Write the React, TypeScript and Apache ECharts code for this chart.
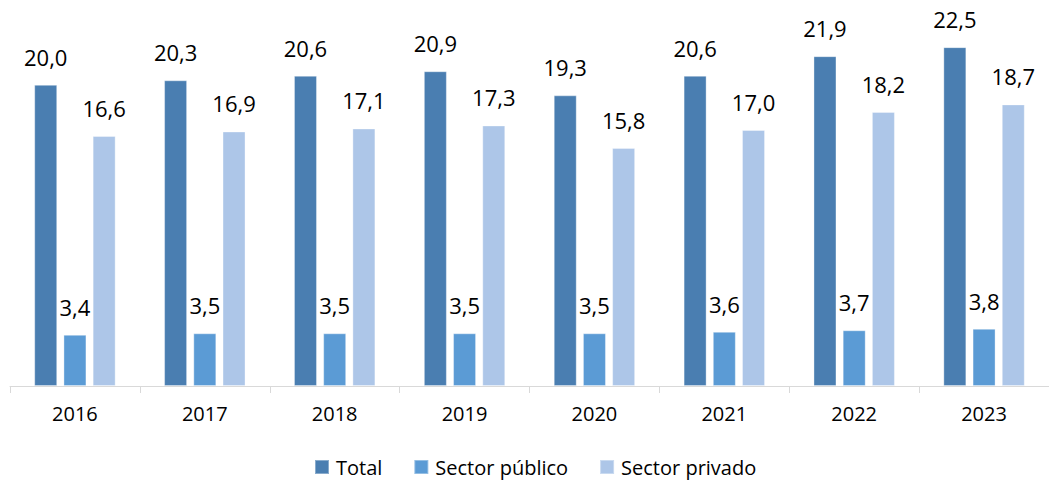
import React, { useEffect, useRef } from "react";
import * as echarts from "echarts";

const categories = ["2016", "2017", "2018", "2019", "2020", "2021", "2022", "2023"];
const totalValues = [20.0, 20.3, 20.6, 20.9, 19.3, 20.6, 21.9, 22.5];
const publicValues = [3.4, 3.5, 3.5, 3.5, 3.5, 3.6, 3.7, 3.8];
const privateValues = [16.6, 16.9, 17.1, 17.3, 15.8, 17.0, 18.2, 18.7];
const seriesNames = ["Total", "Sector público", "Sector privado"];
const colors = ["#4a7eb1", "#5b9bd5", "#adc6e8"];

const FONT = "'Open Sans', sans-serif";

export default function App() {
  const ref = useRef<HTMLDivElement>(null);
  useEffect(() => {
    if (!ref.current) return;
    const chart = echarts.init(ref.current, null, { renderer: "svg" });
    const fmt = (p: any) => Number(p.value).toFixed(1).replace(".", ",");
    const mk = (name: string, data: number[], color: string) => ({
      name,
      type: "bar",
      data,
      barWidth: 23,
      barGap: "27%",
      itemStyle: { color, borderColor: "rgba(255,255,255,0.35)", borderWidth: 1 },
      label: {
        show: true,
        position: "top",
        distance: 17,
        formatter: fmt,
        color: "#000",
        fontSize: 22,
        fontFamily: FONT,
      },
    });
    chart.setOption({
      animation: false,
      color: colors,
      grid: { left: 10, right: -7, top: 9.5, bottom: 96, containLabel: false },
      legend: {
        data: seriesNames,
        top: 452,
        left: 309,
        itemWidth: 14,
        itemHeight: 14,
        itemGap: 31,
        icon: "rect",
        textStyle: { fontSize: 20, fontFamily: FONT, color: "#000", padding: [0, 0, 0, 2] },
      },
      xAxis: {
        type: "category",
        data: categories,
        axisLine: { show: true, lineStyle: { color: "#d9d9d9", width: 1 } },
        axisTick: { show: true, length: 7, lineStyle: { color: "#d9d9d9" } },
        axisLabel: { color: "#000", fontSize: 20, fontFamily: FONT, margin: 17 },
      },
      yAxis: { type: "value", min: 0, max: 25, show: false, splitLine: { show: false } },
      series: [
        mk(seriesNames[0], totalValues, colors[0]),
        mk(seriesNames[1], publicValues, colors[1]),
        mk(seriesNames[2], privateValues, colors[2]),
      ],
    });
    return () => chart.dispose();
  }, []);
  return (
    <div
      ref={ref}
      style={{ position: "fixed", left: 0, top: 0, width: 1049, height: 482, background: "#fff" }}
    />
  );
}
